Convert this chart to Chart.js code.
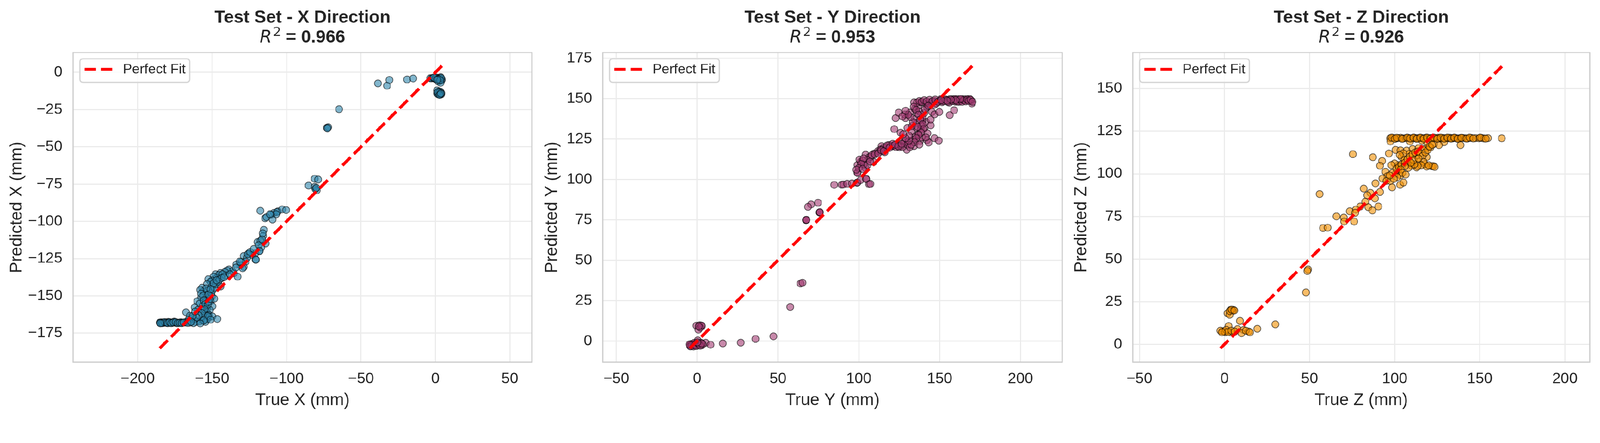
<!DOCTYPE html>
<html>
<head>
<meta charset="utf-8">
<script src="https://cdn.jsdelivr.net/npm/chart.js@4.4.1/dist/chart.umd.min.js"></script>
<style>
html,body{margin:0;padding:0;background:#ffffff;overflow:hidden;}
#wrap{position:absolute;left:0;top:0;width:4356px;height:1134px;overflow:hidden;background:#ffffff;transform-origin:0 0;}
.panel{position:absolute;top:0;height:1134px;}
</style>
</head>
<body>
<div id="wrap">
  <div class="panel" style="left:0px;width:1460px"><canvas id="c1"></canvas></div>
  <div class="panel" style="left:1460px;width:1440px"><canvas id="c2"></canvas></div>
  <div class="panel" style="left:2900px;width:1456px"><canvas id="c3"></canvas></div>
</div>
<script>
// ---------------- DATA ----------------
const titles = ["Test Set - X Direction", "Test Set - Y Direction", "Test Set - Z Direction"];
const r2Values = ["0.966", "0.953", "0.926"];
const xLabels = ["True X (mm)", "True Y (mm)", "True Z (mm)"];
const yLabels = ["Predicted X (mm)", "Predicted Y (mm)", "Predicted Z (mm)"];
const fitLabel = "Perfect Fit";

// X direction
const trueX = [
  -38.6,-32.5,-30.9,-19,-14.9,
  -3.5,-2.5,-1.6,-0.5,0.2,1.0,1.5,2.5,3.0,3.5,4.3,4.0,2.0,3.5,2.2,
  1.1,2.5,2.9,2.0,3.8,1.1,1.8,3.0,2.6,3.4,4.0,
  -64.7,-72.9,-72.0,-72.5,
  -81.1,-78.8,-85.2,-81.1,-79.7,-80.6,-80.0,
  -117.6,-108.5,-105.8,-103,-100.3,-106.5,-107.0,-110.5,-114.4,-113.5,-109.4,-111.2,
  -115.3,-115.8,-119.5,-117.5,-114,-118.1,-120.8,-117.0,-118.8,-121.0,-123.0,
  -125.5,-128.8,-120.6,-118.1,-126.5,-127.5,-130.5,-133.7,-128.8,-131.0,-129.5,
  -138.7,-135.4,-132.9,-136.5,-140.0,-141.5,
  -147.7,-144.4,-141.1,-146.9,-145.5,-143.0,-149.0,
  -150.2,-152.6,-151.0,-153.5,-150.2,-144.4,-156.8,-152.6,-155.9,-154.0,
  -153.5,-150.2,-157.4,-154.3,-151,-148.6,-159.9,-152.0,
  -158.4,-156.3,-153.5,-149.8,-161.7,-159.3,-156.8,-153.5,-151.5,-155.0,-152.0,
  -167.5,-165,-165.8,-163.4,-160.9,-158.4,-156,-153.5,-151.9,-149.8,-146.5,-162.0,-157.0,-154.5,
  -185.2,-184.5,-184,-183.0,-182.3,-181.5,-180.2,-179.0,-178.2,-177.0,-176.5,-175.0,-174,-172.4,-171.0,-170,-168.3,-167.0,-175.5,-179.5,
  -158.0,-157.5,-156.0,-155.5,-154.5,-153.0,-152.5,-151.5,-150.5,-149.5,-148.5,-147.5,-146.0,-145.0,-143.5,-142.0,-155.0,-157.0,-159.0,-160.5,
  -163.0,-161.5,-153.0,-151.0,-155.5,-158.0,-162.5,-165.0,-152.5,-151.0,-149.0,-147.0,-138.0,-134.0,-131.5,-126.0,-124.5,-122.0,-116.5,-116.0,
  0.5,1.5,2.8,3.8,-1.0,2.0,3.2,1.2,2.4,3.2,1.6,2.8,3.6,
  -185.0,-183.5,-182.0,-180.8,-179.8,-178.6,-177.5,-176.0,-174.5,-173.2,-171.8,-170.5,-169.2,-166.5,-164.0,-184.8
];
const predX = [
  -7.4,-9,-5.1,-4.8,-4.1,
  -3.9,-4.0,-3.7,-4.2,-4.4,-3.6,-5.0,-3.9,-4.5,-3.2,-4.8,-5.5,-6.2,-7.0,-5.2,
  -12.1,-12.8,-13.5,-14.4,-14.9,-14.0,-14.8,-15.0,-14.2,-13.0,-14.0,
  -24.7,-37.2,-36.8,-37.5,
  -71.4,-71.9,-76,-76.9,-79.2,-78.3,-77.5,
  -92.9,-94.3,-93.3,-92,-92.4,-93.8,-95.2,-95.5,-97.9,-97.2,-98.8,-95.2,
  -105.7,-109.8,-113.9,-113.0,-114.8,-119.8,-125.7,-117.5,-116.0,-121.5,-122.5,
  -121.6,-123.2,-125.7,-119.9,-124.5,-127.0,-127.3,-128.9,-130.6,-129.5,-131.5,
  -132.2,-134.7,-137.1,-133.5,-133.0,-134.0,
  -135.5,-134.7,-136.3,-137.9,-136.0,-135.5,-137.0,
  -139.6,-138.8,-140.5,-142.1,-143.7,-143.7,-144.5,-146.2,-147,-145.0,
  -149.5,-150.3,-151.1,-152.8,-153.6,-151.9,-153.6,-151.0,
  -155.2,-156.9,-158.5,-156.9,-157.7,-159.3,-160.1,-161,-159.5,-162.5,-163.0,
  -161,-163.4,-165.9,-165,-167.5,-167.1,-166.7,-165.9,-164.2,-163.8,-165.5,-166.0,-164.5,-167.5,
  -168,-168.2,-167.8,-168.1,-168,-167.9,-168.2,-168,-167.8,-168.1,-168,-167.9,-168.2,-168,-167.7,-168,-167.8,-167.5,-167.3,-167.5,
  -146.0,-148.5,-150.0,-153.0,-155.5,-156.0,-154.0,-152.0,-148.0,-146.0,-144.5,-142.0,-140.5,-139.0,-138.0,-137.5,-159.0,-161.5,-163.0,-164.5,
  -163.5,-160.5,-163.5,-166.0,-166.5,-168.5,-168.3,-168.0,-149.0,-145.5,-141.5,-139.5,-135.5,-131.0,-127.0,-122.0,-120.5,-118.5,-112.0,-108.0,
  -3.5,-4.2,-4.0,-3.8,-3.5,-4.6,-5.4,-5.0,-13.8,-14.6,-13.2,-15.2,-14.2,
  -167.9,-168.3,-167.6,-168.0,-168.3,-167.7,-168.3,-167.8,-167.6,-168.3,-168.1,-168.3,-167.9,-168.2,-167.4,-168.4
];

// Y direction
const trueY = [
  -4.5,-3.4,-1.9,-3.0,-4.0,-2.5,1.1,2.7,0.4,2.3,5.3,8.3,-1.0,0,1.5,3.5,-3.8,-2.0,
  15.9,27,36.1,47.2,
  -0.4,1.5,3,0.8,1.9,2.5,1.0,
  57.6,64,65.2,
  67.4,67.4,67.6,75.8,75.8,75.9,70.5,68.6,74.8,
  84.8,89.4,90.5,92.8,95.8,98.9,99.2,101.1,104.5,104.6,106.4,107.2,99.2,99.2,
  99.2,101.1,104.2,103,100.4,104.2,106.5,109.2,109.5,111.8,114.1,116,118.6,120.9,125.1,127.8,129.7,130.4,134.2,137.7,142.2,146.8,149.5,143.2,
  112.5,113.5,115.5,117.0,119.5,121.5,123.0,124.0,126.0,127.0,128.5,130.0,131.5,107.5,105.5,102.5,
  122,125.9,130.1,132.7,135.8,138.4,140.7,141.5,144.5,139.2,134.6,122.8,124.7,128.9,128.5,131.6,134.6,136.2,136.9,134.2,138.4,142.2,145.3,146.8,149.8,141.5,146.8,
  137.0,138.5,136.0,139.5,137.5,140.5,133.0,135.0,133.5,139.0,
  149.8,152.9,156.3,159,157.5,161.3,164.3,166.6,169.6,170,163.5,155.2,159.8,143.0,145.0,147.0,150.5,151.5,154.0,156.0,158.5,160.5,162.0,165.5,167.5,168.5,144.0,148.0,
  -4.2,-3.2,-2.2,-1.4,-0.6,0.6,1.8,2.8,-4.8,0.2,
  136.0,137.5,139.0,140.5,142.0,143.8,145.6,147.3,149.0,150.8,152.2,153.6,155.0,156.6,158.0,159.3,161.0,162.6,164.0,165.0,166.2,167.0,168.0,169.2,170.4,163.0,160.0,157.0,154.6,151.0,
  134.0,135.5,137.0,138.0,139.5,140.0,138.5,137.0,135.5,134.5,132.5,131.0,136.5,133.5,132.0,130.5,129.0,127.0,141.0,143.0,144.5,142.5,141.5,137.5,131.0,129.0,127.5,
  108.0,110.0,112.0,114.0,115.5,117.5,119.0,121.0,122.5,124.5,126.5,103.0,101.5,100.0,98.5,102.5,105.5,107.0
];
const predY = [
  -2.7,-1.9,-2.7,-3.0,-2.0,-2.3,-2.3,-2.7,0.4,-1.1,-1.1,-2.3,-1.5,-2.8,-1.8,-2.0,-3.2,-1.2,
  -1.5,-1,1.3,2.9,
  9.5,9.8,9.3,7,8.3,9.6,9.0,
  21.1,35.6,36.1,
  74.8,74.8,75.0,79.5,79.5,79.7,84.5,83,85.6,
  96.6,96.7,96.8,97.3,97.5,97.9,98.1,99.6,100.4,100.2,97,97.2,104.3,104,
  108.9,110.8,107,109.2,112.3,115.3,113.8,110.8,116,117.5,120.6,116.8,121.3,120.6,119.8,122.8,118.3,122.8,120.6,123.6,124.3,125.5,124,122.8,
  117.0,118.5,119.5,120.0,120.5,121.0,120.0,121.5,121.0,120.0,123.5,121.5,120.0,114.0,112.0,111.5,
  131.1,128.9,131.9,129.6,131.9,131.1,131.9,135.7,133.4,136.4,137.2,137.9,141.3,137.9,140.2,141.3,143.6,140.9,145.5,147.7,147.7,144.7,141.7,140.2,141.7,146.9,146.2,
  128.0,133.5,135.0,138.5,142.0,141.0,133.0,126.5,124.5,126.0,
  148.5,148.5,139.8,142.8,148.5,148.9,148.9,148.9,148.5,147,149.6,148.9,148.1,147.5,148.0,148.5,149.0,147.8,149.2,147.5,149.5,149.8,148.0,149.6,149.5,149.8,146.0,147.0,
  -3.3,-2.6,-3.4,-2.2,-3.1,-1.6,-2.9,-1.5,-2.1,-0.8,
  147.5,148.5,148.0,149.0,148.2,149.2,148.3,149.4,148.0,149.6,148.4,149.4,148.0,149.7,148.6,149.6,148.2,149.4,148.0,149.0,148.3,149.4,148.6,149.2,148.0,149.8,149.0,149.3,148.7,148.9,
  145.0,143.0,140.0,137.0,134.0,131.0,129.0,127.5,125.5,123.0,121.5,124.0,132.5,135.5,138.5,140.0,142.5,139.0,143.5,145.5,137.0,128.5,126.0,121.5,127.0,125.5,128.0,
  115.0,115.5,116.0,118.0,117.5,121.0,119.5,122.0,121.5,120.5,122.0,113.0,109.5,107.0,106.0,106.5,109.0,111.0
];

// Z direction
const trueZ = [
  97.3,99,100.5,102,103.5,105,106.5,108,109.5,110.5,111.5,112.5,113.5,114.5,115.5,116.5,117.5,118.5,119.5,120.5,121.5,122.5,123.5,124.5,125.5,126.5,127.5,128.5,129.5,130.5,131.5,132.5,133.5,134.5,135.5,136.5,137.5,138.5,140,141.5,143,145,147.5,149.5,151,152.5,154.8,162.9,
  97.5,109,129,138.7,126,123,119,116,
  75.4,87.2,92.6,91.4,96.6,100.5,103.4,107,110.5,114,118.8,121,116.4,108.7,112.9,118.8,104,105.8,102.2,109.3,114,117.6,121.7,118.8,112.9,110,99.9,98.1,102.2,100.5,98.7,103.4,94.6,95.7,92.8,95.2,97.5,103.2,105.2,98.5,88.7,91.4,81.8,85.7,83.9,88.4,82.7,84.5,86.9,90.4,79.8,77.2,73.6,76.8,65.8,70.1,70.3,76.2,57.9,60.6,55.9,
  49.1,48.7,47.9,
  3.5,1.8,5.3,4.8,3.0,9.1,29.9,19.3,-1.2,-2.4,2.4,3.5,5.3,7.7,11.2,14.2,10,0.6,
  98.2,100.0,101.2,104.3,107.3,109.0,111.0,113.0,115.0,117.0,119.0,121.0,123.0,125.0,127.0,129.0,131.0,133.0,135.0,137.0,139.2,142.2,144.0,146.2,150.2,153.5,
  101.0,102.5,104.0,106.0,107.5,109.0,110.5,112.0,113.5,115.0,116.5,118.0,119.5,120.5,122.0,117.0,115.5,113.5,111.5,108.0,106.0,103.5,104.5,106.5,101.5,99.5,97.0,122.5,123.5,120.0,105.0,103.0,111.0,114.0,109.5,
  0.0,1.0,2.0,4.0,6.0,-1.5,3.0,4.2,5.8,12.5,15.0
];
const predZ = [
  120.8,121.0,120.6,120.9,121.1,120.7,120.9,121.0,120.6,120.8,121.1,120.7,120.9,120.8,121.0,120.6,120.9,121.1,120.7,120.8,121.0,120.6,120.9,120.8,121.1,120.7,120.8,121.0,120.6,120.9,120.8,121.1,120.7,120.9,121.0,120.8,120.6,120.9,121.0,120.8,120.7,121.0,120.9,120.8,121.0,120.7,120.9,120.8,
  119,119,118.5,116.8,116.8,117.5,118.5,119.5,
  111.5,109.7,107.5,104.7,111.9,114,113.7,113.6,114.5,115,115,115.4,114.5,111.7,110.7,109.8,109.8,108,105.1,106,107,105.6,104.4,104.2,103.7,104.7,106.1,105.1,102.3,100,100.5,99.1,101.2,98.6,97.2,95.8,95.8,93.5,94.9,92,94.4,89.3,91.3,88.8,87.4,85.5,83.6,80.4,78.5,80.8,80.8,79,78,77.1,75,74.3,72,72,68.2,68.4,88.1,
  43.9,43,30.4,
  20.1,18.2,20.1,19.6,17.3,13.7,11.7,9.1,7.7,8,10.7,7,7,8.9,8.4,7.5,6.5,7,
  121.2,120.5,121.1,120.5,121.2,120.7,121.2,120.5,121.2,120.6,121.2,120.6,121.2,120.5,121.2,120.6,121.2,120.6,121.2,120.5,121.1,120.6,121.2,120.7,121.2,120.6,
  103.0,104.0,105.5,106.5,108.5,110.0,111.5,112.5,113.0,112.0,110.5,112.5,114.0,116.0,117.0,107.0,105.0,104.5,105.5,103.5,104.5,102.5,100.5,99.5,98.0,97.0,99.0,104.5,104.0,105.0,112.0,111.0,108.0,109.0,106.5,
  7.5,8.5,7.2,8.0,7.5,7.0,19.5,20.3,19.8,8.0,7.0
];

// perfect-fit line end points (min / max of the true values)
const fitX = [-185.2, 4.5];
const fitY = [-4.5, 170.3];
const fitZ = [-2.4, 163.0];

// tick values
const xTicks1 = [-200,-150,-100,-50,0,50];
const yTicks1 = [-175,-150,-125,-100,-75,-50,-25,0];
const xTicks2 = [-50,0,50,100,150,200];
const yTicks2 = [0,25,50,75,100,125,150,175];
const xTicks3 = [-50,0,50,100,150,200];
const yTicks3 = [0,25,50,75,100,125,150];

// axis limits
const xRange1 = [-243.4, 64.8], yRange1 = [-194.5, 13.3];
const xRange2 = [-58.4, 225.9], yRange2 = [-13.1, 178.5];
const xRange3 = [-53.9, 214.6], yRange3 = [-10.5, 171.1];

// colours
const faceColors = ["rgba(46,134,171,0.6)", "rgba(162,59,114,0.6)", "rgba(241,143,1,0.6)"];

// ---------------- RENDERING ----------------
// fit the 4356x1134 design to the actual viewport
(function(){
  const w = window.innerWidth || 4356, h = window.innerHeight || 1134;
  const s = Math.min(w / 4356, h / 1134);
  document.getElementById('wrap').style.transform = 'scale(' + s + ')';
})();

const FONT = '"Liberation Sans", Arial, Helvetica, sans-serif';
const TEXT = '#262626';
function fmt(v){ return v < 0 ? '\u2212' + Math.abs(v) : String(v); }

const decorPlugin = {
  id: 'decor',
  afterDatasetsDraw(chart, args, opts) {
    const {ctx, chartArea: a} = chart;
    ctx.save();
    // spines
    ctx.strokeStyle = '#cccccc';
    ctx.lineWidth = 3.2;
    ctx.strokeRect(a.left, a.top, a.right - a.left, a.bottom - a.top);
    // legend
    const lx = a.left + 18.5, ly = a.top + 17, lw = 299, lh = 64, r = 8;
    ctx.beginPath();
    ctx.moveTo(lx + r, ly);
    ctx.arcTo(lx + lw, ly, lx + lw, ly + lh, r);
    ctx.arcTo(lx + lw, ly + lh, lx, ly + lh, r);
    ctx.arcTo(lx, ly + lh, lx, ly, r);
    ctx.arcTo(lx, ly, lx + lw, ly, r);
    ctx.closePath();
    ctx.fillStyle = 'rgba(255,255,255,0.8)';
    ctx.fill();
    ctx.strokeStyle = '#d6d6d6';
    ctx.lineWidth = 3.5;
    ctx.stroke();
    const ds = chart.data.datasets[0];
    ctx.beginPath();
    ctx.setLineDash([31, 13]);
    ctx.strokeStyle = ds.borderColor;
    ctx.lineWidth = ds.borderWidth;
    ctx.moveTo(lx + 13, ly + 29);
    ctx.lineTo(lx + 89, ly + 29);
    ctx.stroke();
    ctx.setLineDash([]);
    ctx.fillStyle = TEXT;
    ctx.font = '37.5px ' + FONT;
    ctx.textBaseline = 'middle';
    ctx.textAlign = 'left';
    ctx.fillText(ds.label, lx + 117, ly + 30);
    ctx.restore();
  },
  afterDraw(chart, args, opts) {
    const {ctx, chartArea: a} = chart;
    const cx = (a.left + a.right) / 2;
    ctx.save();
    ctx.fillStyle = TEXT;
    ctx.textBaseline = 'alphabetic';
    ctx.textAlign = 'center';
    ctx.font = 'bold 48px ' + FONT;
    ctx.fillText(opts.line1, cx, 62);
    // second line: italic R, superscript 2, then bold " = value"
    const fR = 'oblique 48px "DejaVu Sans", sans-serif';
    const f2 = '34px "DejaVu Sans", sans-serif';
    const fRest = 'bold 48px ' + FONT;
    const rest = ' = ' + opts.value;
    ctx.font = fR; const wR = ctx.measureText('R').width;
    ctx.font = f2; const w2 = ctx.measureText('2').width;
    ctx.font = fRest; const wRest = ctx.measureText(rest).width;
    const gap = 3;
    let x = cx - (wR + gap + w2 + wRest) / 2;
    ctx.textAlign = 'left';
    ctx.font = fR; ctx.fillText('R', x, 116); x += wR + gap;
    ctx.font = f2; ctx.fillText('2', x, 98); x += w2;
    ctx.font = fRest; ctx.fillText(rest, x, 116);
    ctx.restore();
  }
};

function makeChart(id, p) {
  const pts = p.tx.map((v, i) => ({x: v, y: p.py[i]}));
  const line = p.fit.map(v => ({x: v, y: v}));
  return new Chart(document.getElementById(id), {
    type: 'scatter',
    data: {
      datasets: [
        {
          label: fitLabel,
          data: line,
          showLine: true,
          borderColor: '#ff0000',
          backgroundColor: '#ff0000',
          borderWidth: 8.3,
          borderDash: [31, 13],
          borderCapStyle: 'butt',
          pointRadius: 0,
          order: 0
        },
        {
          label: 'points',
          data: pts,
          pointRadius: 9.6,
          pointBorderWidth: 2,
          backgroundColor: p.color,
          borderColor: 'rgba(0,0,0,0.6)',
          pointBackgroundColor: p.color,
          pointBorderColor: 'rgba(0,0,0,0.6)',
          order: 1
        }
      ]
    },
    options: {
      responsive: true,
      maintainAspectRatio: false,
      animation: false,
      events: [],
      layout: { autoPadding: false, padding: { left: 0, right: p.padRight, top: 143, bottom: 0 } },
      plugins: {
        legend: { display: false },
        tooltip: { enabled: false },
        decor: { line1: p.title, value: p.r2 }
      },
      scales: {
        x: {
          type: 'linear',
          min: p.xr[0], max: p.xr[1],
          afterBuildTicks: s => { s.ticks = p.xt.map(v => ({value: v})); },
          afterFit: s => { s.height = 148; },
          grid: { color: '#ebebeb', lineWidth: 3, drawTicks: false },
          border: { display: false },
          ticks: {
            autoSkip: false, maxRotation: 0, padding: 21,
            color: TEXT, font: { family: FONT, size: 41.5 },
            callback: v => fmt(v)
          },
          title: {
            display: true, text: p.xl, color: TEXT,
            font: { family: FONT, size: 46 },
            padding: { top: 0, bottom: 16 }
          }
        },
        y: {
          type: 'linear',
          min: p.yr[0], max: p.yr[1],
          afterBuildTicks: s => { s.ticks = p.yt.map(v => ({value: v})); },
          afterFit: s => { s.width = p.yAxisW; },
          grid: { color: '#ebebeb', lineWidth: 3, drawTicks: false },
          border: { display: false },
          ticks: {
            autoSkip: false, padding: 29,
            color: TEXT, font: { family: FONT, size: 41.5 },
            callback: v => fmt(v)
          },
          title: {
            display: true, text: p.yl, color: TEXT,
            font: { family: FONT, size: 46 },
            padding: { top: p.yTitlePad, bottom: 0 }
          }
        }
      }
    },
    plugins: [decorPlugin]
  });
}

makeChart('c1', { tx: trueX, py: predX, fit: fitX, color: faceColors[0], title: titles[0], r2: r2Values[0],
  xl: xLabels[0], yl: yLabels[0], xt: xTicks1, yt: yTicks1, xr: xRange1, yr: yRange1,
  yAxisW: 199, padRight: 12, yTitlePad: 19 });
makeChart('c2', { tx: trueY, py: predY, fit: fitY, color: faceColors[1], title: titles[1], r2: r2Values[1],
  xl: xLabels[1], yl: yLabels[1], xt: xTicks2, yt: yTicks2, xr: xRange2, yr: yRange2,
  yAxisW: 181, padRight: 8, yTitlePad: 16 });
makeChart('c3', { tx: trueZ, py: predZ, fit: fitZ, color: faceColors[2], title: titles[2], r2: r2Values[2],
  xl: xLabels[2], yl: yLabels[2], xt: xTicks3, yt: yTicks3, xr: xRange3, yr: yRange3,
  yAxisW: 184, padRight: 28, yTitlePad: 17 });
</script>
</body>
</html>
